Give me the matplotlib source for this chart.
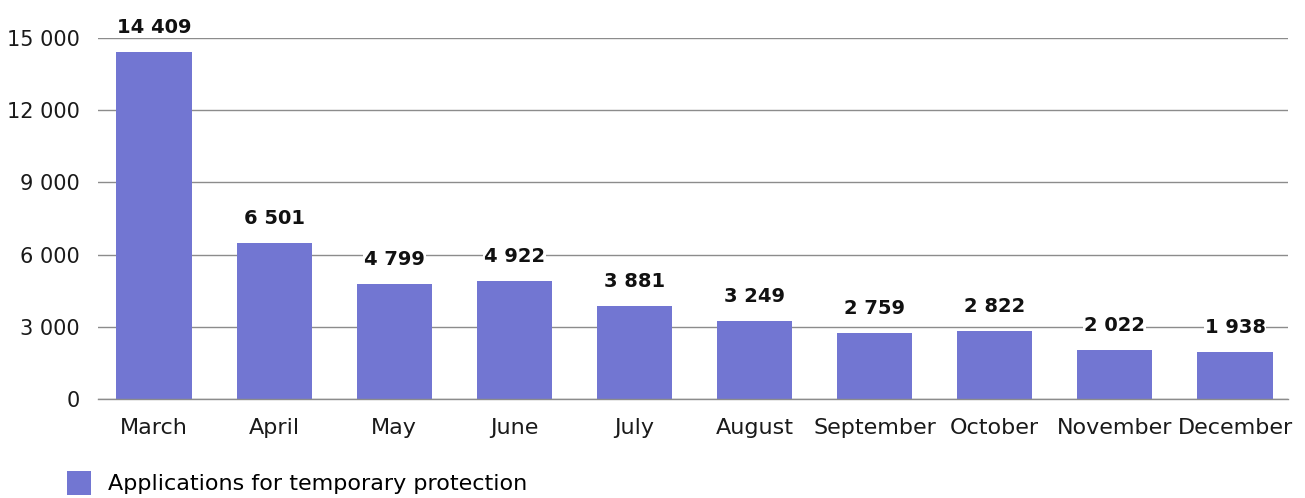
import matplotlib.pyplot as plt
from matplotlib.ticker import FuncFormatter

plt.rcParams['font.family'] = ['DejaVu Sans']

# Data
months = ["March", "April", "May", "June", "July", "August",
          "September", "October", "November", "December"]
applications = [14409, 6501, 4799, 4922, 3881, 3249, 2759, 2822, 2022, 1938]
series_name = "Applications for temporary protection"

bar_color = '#7276D2'
grid_color = '#8c8c8c'


def spaced(v, pos=None):
    return f"{int(v):,}".replace(",", " ")


fig = plt.figure(figsize=(13.05, 4.98), dpi=100)
ax = fig.add_axes([0.0751, 0.1988, 0.9115, 0.7249])

bars = ax.bar(range(len(months)), applications, width=0.625, color=bar_color,
              label=series_name, zorder=2)

ax.set_ylim(0, 15000)
ax.set_xlim(-0.466, len(months) - 1 + 0.437)
ax.set_yticks([0, 3000, 6000, 9000, 12000, 15000])
ax.yaxis.set_major_formatter(FuncFormatter(spaced))
ax.set_xticks(range(len(months)))
ax.set_xticklabels(months)
ax.tick_params(axis='both', length=0, colors='#1a1a1a')
ax.tick_params(axis='y', pad=13, labelsize=15)
ax.tick_params(axis='x', pad=14, labelsize=16)

ax.grid(axis='y', color=grid_color, linewidth=1, zorder=0)
for s in ['top', 'right', 'left']:
    ax.spines[s].set_visible(False)
ax.spines['bottom'].set_color(grid_color)
ax.spines['bottom'].set_linewidth(1)

# value labels with white background over the gridlines
for rect, v in zip(bars, applications):
    ax.annotate(spaced(v), (rect.get_x() + rect.get_width() / 2, v),
                xytext=(0, 15), textcoords='offset pixels',
                ha='center', va='bottom', fontsize=14, fontweight='bold',
                color='#111111', clip_on=False, zorder=3,
                bbox=dict(boxstyle='square,pad=0.05', fc='white', ec='none'))

fig.legend(handles=[bars], labels=[series_name], loc='lower left',
           bbox_to_anchor=(0.036, -0.034), frameon=False, fontsize=16,
           handlelength=1.1, handleheight=1.3, handletextpad=0.75)

fig.savefig('out.png', dpi=100)
